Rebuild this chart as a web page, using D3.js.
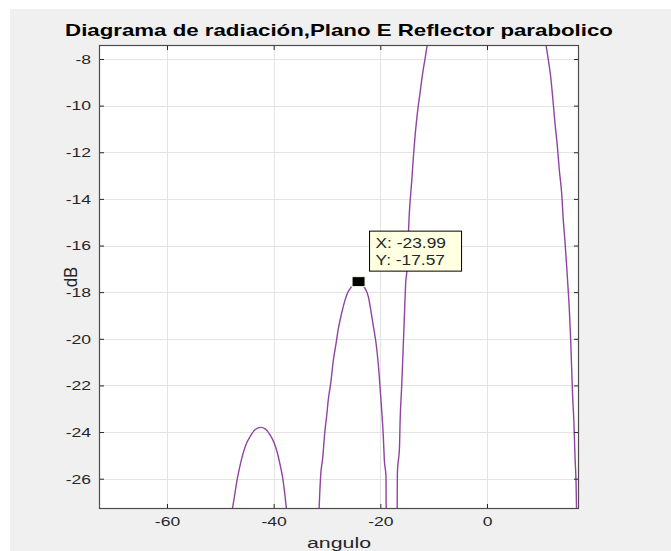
<!DOCTYPE html>
<html>
<head>
<meta charset="utf-8">
<script src="https://cdn.jsdelivr.net/npm/d3@7"></script>
<style>
  html, body { margin: 0; padding: 0; background: #ffffff; }
  svg { display: block; }
  text { font-family: "Liberation Sans", Arial, Helvetica, sans-serif; }
</style>
</head>
<body>
<svg id="chart" width="671" height="551"></svg>
<script>
// ---- data ----
const titleText = "Diagrama de radiación,Plano E Reflector parabolico";
const xLabel = "angulo";
const yLabel = "dB";
const xTicks = [-60, -40, -20, 0];
const yTicks = [-8, -10, -12, -14, -16, -18, -20, -22, -24, -26];
const xDomain = [-72.75, 17.25];
const yDomain = [-27.3, -7.4];

// second side lobe (left)
const lobe2Angle = [-47.75, -47.4, -46.9, -46.4, -45.8, -45.2, -44.4, -43.5, -42.4, -41.6, -40.7, -39.9, -39.3, -38.8, -38.3, -37.9, -37.6];
const lobe2dB    = [-27.3, -26.83, -26.1, -25.54, -24.97, -24.54, -24.19, -23.9, -23.8, -23.86, -24.11, -24.47, -24.9, -25.4, -25.97, -26.69, -27.3];

// first side lobe
const lobe1Angle = [-31.5, -31.2, -30.8, -30.4, -30.06, -29.75, -29.3, -28.8, -28.3, -27.9, -27.25, -26.6, -26.0, -23.99, -22.9, -22.25, -21.8, -21.3, -20.8, -20.4, -20.06, -19.75, -19.44, -19.25, -18.94, -18.9];
const lobe1dB    = [-27.4, -25.9, -25.1, -23.97, -23.3, -22.6, -21.9, -20.9, -20.2, -19.6, -18.9, -18.33, -17.97, -17.57, -17.83, -18.19, -18.76, -19.47, -20.19, -21.05, -22.05, -23.05, -24.2, -25.2, -25.9, -27.4];

// main lobe
const mainAngle = [-16.85, -16.8, -16.4, -16.3, -16.0, -15.8, -15.56, -15.2, -15.06, -14.56, -14.1, -13.8, -13.5, -13.06, -12.56, -12.06, -11.6, -11.2, 0, 11.06, 11.5, 11.94, 12.3, 12.75, 13.2, 13.56, 14.0, 14.3, 14.6, 14.94, 15.1, 15.44, 15.69, 15.88, 16.06, 16.3, 16.5, 16.7, 16.8, 16.85];
const maindB    = [-27.4, -25.76, -24.6, -23.6, -22.05, -20.9, -19.47, -17.47, -17.19, -14.6, -13.19, -12.19, -11.33, -10.33, -9.47, -8.61, -7.97, -7.4, 0, -7.4, -8.04, -8.76, -9.6, -10.76, -11.76, -12.76, -13.76, -14.9, -15.76, -16.9, -17.47, -18.76, -20.04, -21.33, -22.47, -23.6, -25.05, -26.19, -27.33, -27.4];

// data tip
const tipX = -23.99;
const tipY = -17.57;

// ---- drawing ----
const svg = d3.select("#chart");
const W = 671, H = 551;
const plot = { left: 99, right: 579, top: 45, bottom: 509 };
const SX = 1.3; // horizontal stretch of the reference's lettering

svg.append("rect").attr("x", 0).attr("y", 0).attr("width", W).attr("height", H).attr("fill", "#ffffff");
svg.append("rect").attr("x", 10).attr("y", 9).attr("width", W - 10).attr("height", H - 9).attr("fill", "#f0f0f0");

const x = d3.scaleLinear().domain(xDomain).range([plot.left, plot.right]);
const y = d3.scaleLinear().domain(yDomain).range([plot.bottom, plot.top]);

svg.append("rect")
  .attr("x", plot.left).attr("y", plot.top)
  .attr("width", plot.right - plot.left).attr("height", plot.bottom - plot.top)
  .attr("fill", "#ffffff");

// grid
const grid = svg.append("g");
grid.selectAll("line.gx").data(xTicks).enter().append("line")
  .attr("x1", d => Math.round(x(d)) + 0.5).attr("x2", d => Math.round(x(d)) + 0.5)
  .attr("y1", plot.top).attr("y2", plot.bottom)
  .attr("stroke", "#e3e3e3").attr("stroke-width", 1);
grid.selectAll("line.gy").data(yTicks).enter().append("line")
  .attr("y1", d => Math.round(y(d)) + 0.5).attr("y2", d => Math.round(y(d)) + 0.5)
  .attr("x1", plot.left).attr("x2", plot.right)
  .attr("stroke", "#e3e3e3").attr("stroke-width", 1);

svg.append("clipPath").attr("id", "clip").append("rect")
  .attr("x", plot.left).attr("y", plot.top)
  .attr("width", plot.right - plot.left).attr("height", plot.bottom - plot.top);

const line = d3.line()
  .x(d => x(d[0])).y(d => y(d[1]))
  .curve(d3.curveMonotoneX);

const lobes = [
  d3.zip(lobe2Angle, lobe2dB),
  d3.zip(lobe1Angle, lobe1dB),
  d3.zip(mainAngle, maindB)
];
svg.append("g").attr("clip-path", "url(#clip)")
  .selectAll("path").data(lobes).enter().append("path")
  .attr("d", line)
  .attr("fill", "none")
  .attr("stroke", "#8e44a0")
  .attr("stroke-width", 1.4);

// axes, ticks inward on all four sides
const tickColor = "#262626";
const fmt = d => String(d);
const axB = svg.append("g").attr("transform", `translate(0,${plot.bottom})`)
  .call(d3.axisBottom(x).tickValues(xTicks).tickSize(-5).tickPadding(7).tickFormat(fmt));
const axT = svg.append("g").attr("transform", `translate(0,${plot.top})`)
  .call(d3.axisTop(x).tickValues(xTicks).tickSize(-5).tickFormat(""));
const axL = svg.append("g").attr("transform", `translate(${plot.left},0)`)
  .call(d3.axisLeft(y).tickValues(yTicks).tickSize(-5).tickFormat(fmt));
const axR = svg.append("g").attr("transform", `translate(${plot.right},0)`)
  .call(d3.axisRight(y).tickValues(yTicks).tickSize(-5).tickFormat(""));
[axB, axT, axL, axR].forEach(g => {
  g.select(".domain").remove();
  g.selectAll(".tick line").attr("stroke", tickColor);
  g.selectAll("text").attr("fill", "#262626").style("font-size", "13.5px")
    .style("font-family", "'Liberation Sans', Arial, sans-serif");
});
// stretch tick labels horizontally like the reference
axB.selectAll(".tick text").attr("transform", `scale(${SX},1)`);
axL.selectAll(".tick text").attr("x", -8 / SX).attr("transform", `scale(${SX},1)`);

// box
svg.append("rect")
  .attr("x", plot.left + 0.5).attr("y", plot.top + 0.5)
  .attr("width", plot.right - plot.left - 1).attr("height", plot.bottom - plot.top - 1)
  .attr("fill", "none").attr("stroke", "#4d4d4d").attr("stroke-width", 1.2);

// labels
function stretchedText(tx, ty, str, size, opts) {
  const t = svg.append("text")
    .attr("transform", `translate(${tx},${ty}) scale(${opts.sx || SX},1)`)
    .attr("text-anchor", opts.anchor || "middle")
    .style("font-size", size + "px")
    .attr("fill", opts.fill || "#262626")
    .text(str);
  if (opts.bold) t.attr("font-weight", "bold");
  return t;
}
stretchedText((plot.left + plot.right) / 2, 36, titleText, 17, { bold: true, fill: "#000", sx: 1.31 });
stretchedText((plot.left + plot.right) / 2, 548, xLabel, 15.5, { sx: 1.38 });
svg.append("text")
  .attr("transform", `translate(77,${(plot.top + plot.bottom) / 2}) rotate(-90) scale(1.2,1.25)`)
  .attr("text-anchor", "middle").style("font-size", "14px").attr("fill", "#262626")
  .text(yLabel);

// data tip
const px = x(tipX), py = y(tipY);
svg.append("rect").attr("x", px - 7).attr("y", py - 5.5).attr("width", 13).attr("height", 10)
  .attr("fill", "#000").attr("stroke", "#ffffe1").attr("stroke-width", 1);
const bx = px + 10.5, by = py - 51;
svg.append("rect").attr("x", bx).attr("y", by).attr("width", 92).attr("height", 40)
  .attr("fill", "#ffffe1").attr("stroke", "#000").attr("stroke-width", 1);
stretchedText(bx + 6, by + 17, "X: " + tipX.toFixed(2), 14, { anchor: "start", sx: 1.24 });
stretchedText(bx + 6, by + 34, "Y: " + tipY.toFixed(2), 14, { anchor: "start", sx: 1.24 });
</script>
</body>
</html>
